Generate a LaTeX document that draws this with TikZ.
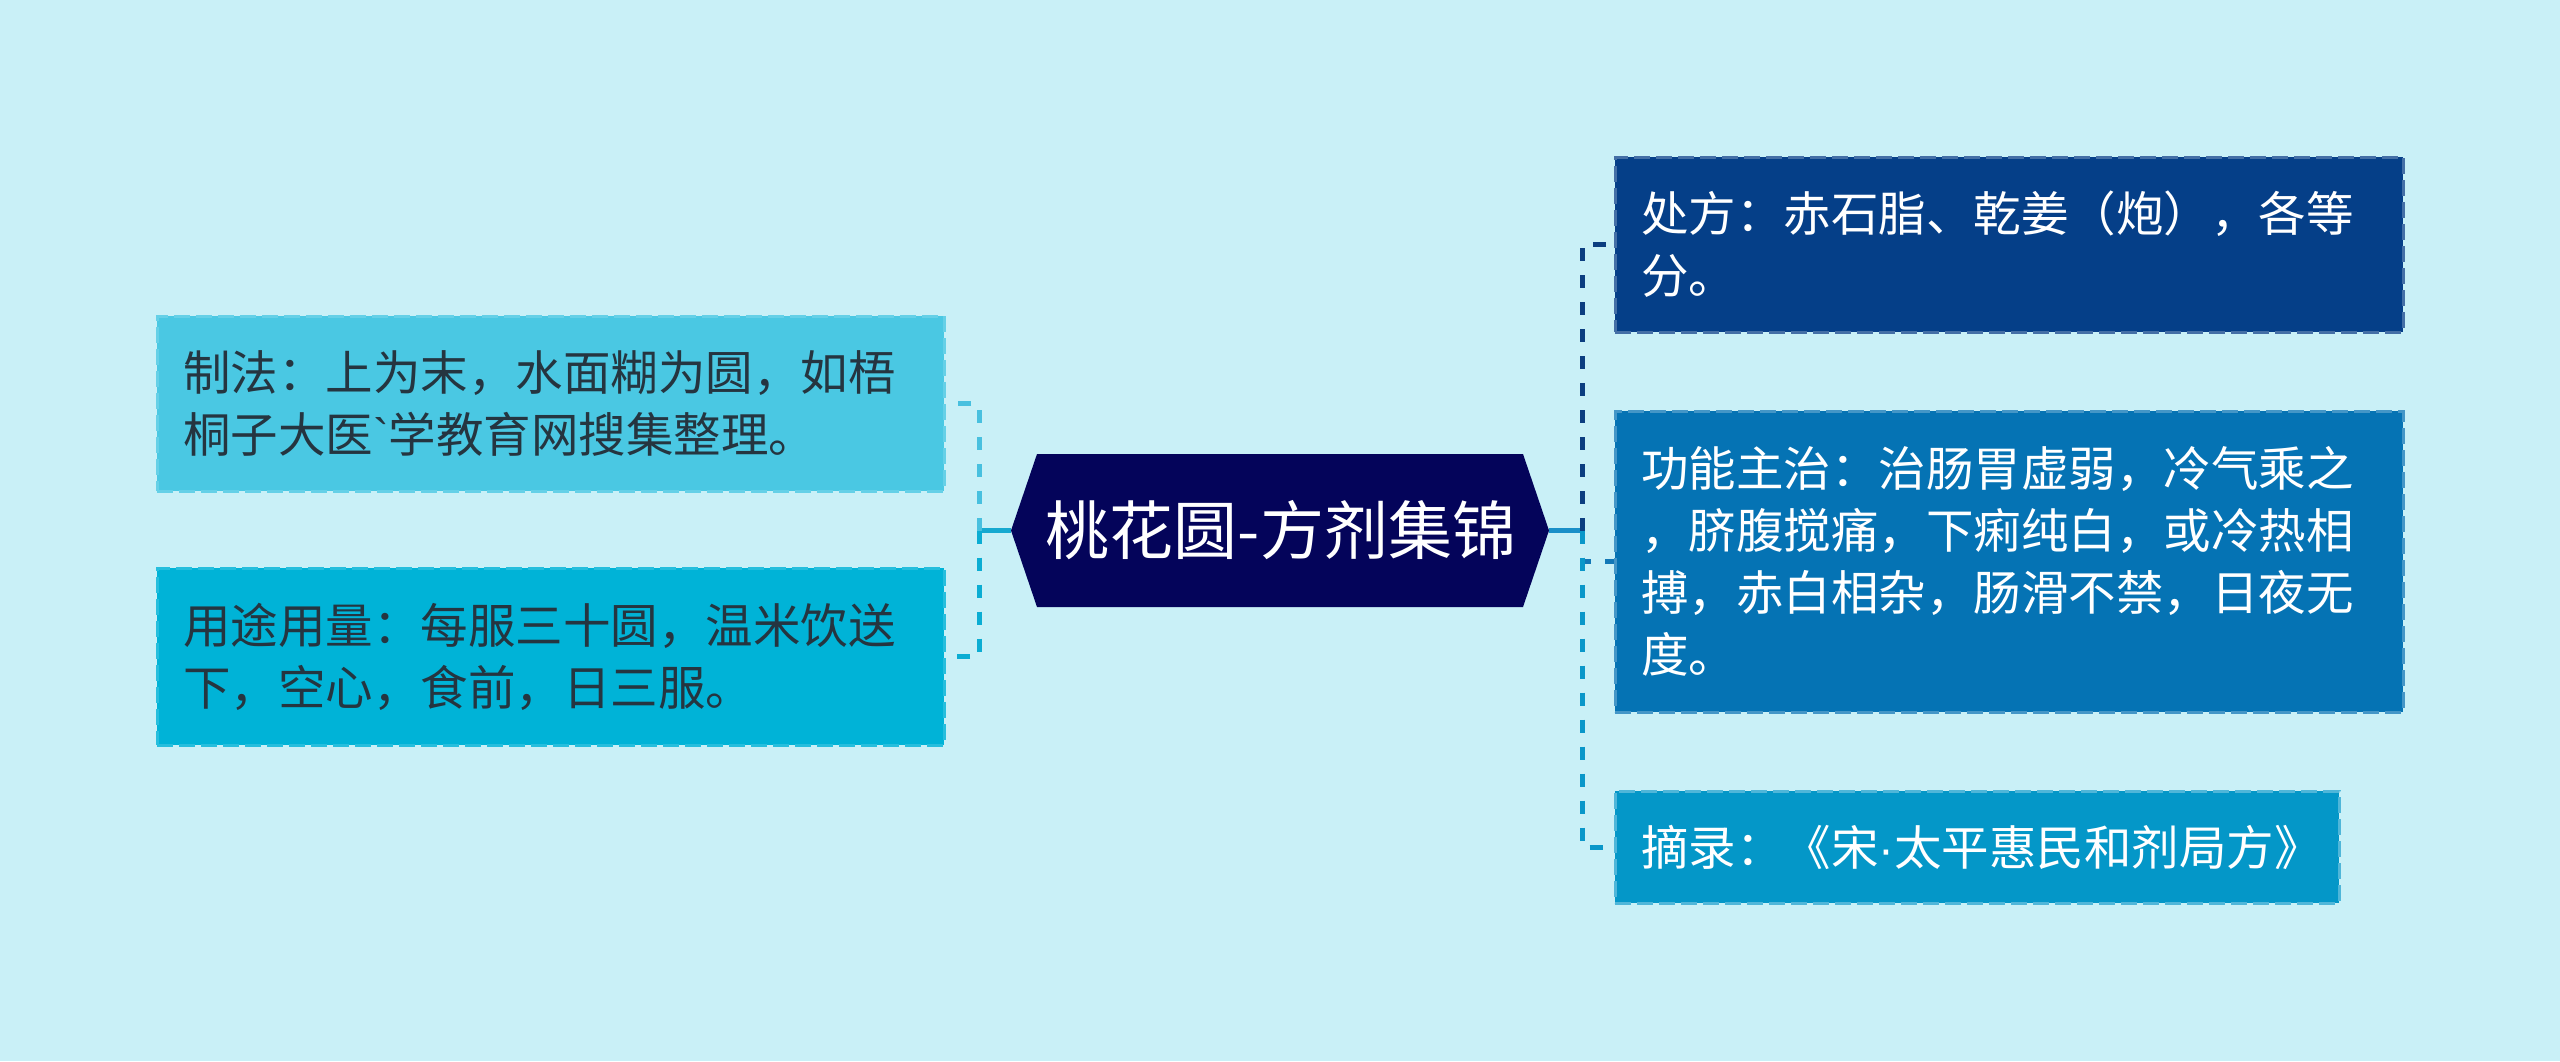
\documentclass[tikz,border=0pt]{standalone}
\usepackage{fontspec}
\newfontfamily\cjk{Noto Sans CJK SC}
\newfontfamily\latinf{Liberation Sans}
\definecolor{bgc}{HTML}{C9F0F7}
\definecolor{lAfill}{HTML}{4AC8E3}
\definecolor{lAline}{HTML}{48C0DF}
\definecolor{lBfill}{HTML}{00B3D7}
\definecolor{lBline}{HTML}{0BADD3}
\definecolor{rootc}{HTML}{04045A}
\definecolor{rAfill}{HTML}{053F88}
\definecolor{rAline}{HTML}{0C3E80}
\definecolor{rBfill}{HTML}{0573B4}
\definecolor{rBline}{HTML}{1378B7}
\definecolor{rCfill}{HTML}{0497C8}
\definecolor{rCline}{HTML}{0A97C9}
\definecolor{cLline}{HTML}{16A9D0}
\definecolor{cRline}{HTML}{1A8FC8}
\definecolor{darktxt}{HTML}{253540}
\tikzset{
  leafbox/.style={rectangle, inner xsep=13pt, inner ysep=0pt, align=left,
    font=\cjk\fontsize{23.75}{31}\selectfont, line width=1.5pt,
    dash pattern=on 8pt off 3pt, anchor=center},
  branch/.style={line width=2.5pt, dash pattern=on 6.5pt off 7pt},
  stem/.style={line width=2.5pt},
}
\begin{document}
\begin{tikzpicture}[x=0.5pt,y=-0.5pt]
\useasboundingbox (0,0) rectangle (2560,1061);
\fill[bgc] (0,0) rectangle (2560,1061);

% root
\fill[rootc] (1011,530.5) -- (1037,454) -- (1523,454) -- (1549,530.5) -- (1523,607) -- (1037,607) -- cycle;
\node[font=\cjk\fontsize{32}{36}\selectfont, text=white, inner sep=0pt] (root) at (1281,530.5) {桃花圆-方剂集锦};
\coordinate (rootW) at (1011,530.5);
\coordinate (rootE) at (1549,530.5);
\coordinate (jL) at (979,530.5);
\coordinate (jR) at (1582,530.5);

% left leaves
\node[leafbox, fill=lAfill, draw=lAfill!85!white, text=darktxt, minimum width=393.5pt, minimum height=87.5pt, text width=367.5pt] (lA) at (550.5,403.5)
  {制法：上为末，水面糊为圆，如梧\\桐子大医{\latinf `}学教育网搜集整理。};
\node[leafbox, fill=lBfill, draw=lBfill!85!white, text=darktxt, minimum width=393.5pt, minimum height=88.5pt, text width=367.5pt] (lB) at (550.5,656.5)
  {用途用量：每服三十圆，温米饮送\\下，空心，食前，日三服。};

% right leaves
\node[leafbox, fill=rAfill, draw=rAfill!75!white, text=white, minimum width=394pt, minimum height=87.5pt, text width=368pt] (rA) at (2009,244.5)
  {处方：赤石脂、乾姜（炮），各等\\分。};
\node[leafbox, fill=rBfill, draw=rBfill!75!white, text=white, minimum width=394pt, minimum height=150.5pt, text width=368pt] (rB) at (2009,561.5)
  {功能主治：治肠胃虚弱，冷气乘之\\，脐腹搅痛，下痢纯白，或冷热相\\搏，赤白相杂，肠滑不禁，日夜无\\度。};
\node[leafbox, fill=rCfill, draw=rCfill!70!white, text=white, minimum width=362pt, minimum height=56pt, text width=336pt] (rC) at (1977,847)
  {摘录：《宋{\latinf ·}太平惠民和剂局方》};

% connectors
\draw[stem, cLline] (rootW) -- (jL);
\draw[stem, cRline] (rootE) -- (jR);
\draw[branch, lAline] (jL) |- (lA.east);
\draw[branch, lBline] (jL) |- (lB.east);
\draw[branch, rAline] (jR) |- (rA.west);
\draw[branch, rBline] (jR) |- (rB.west);
\draw[branch, rCline] (jR) |- (rC.west);
\end{tikzpicture}
\end{document}
